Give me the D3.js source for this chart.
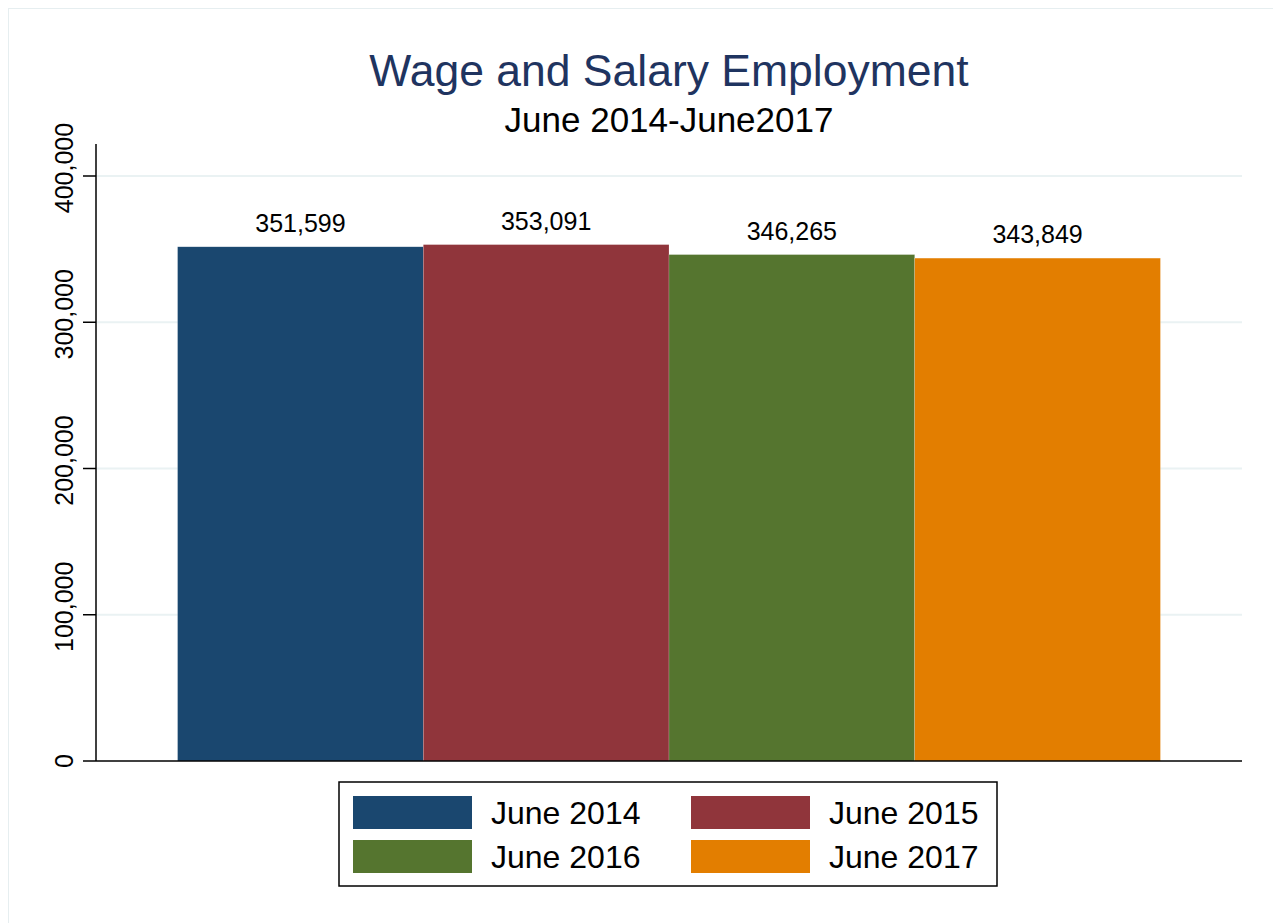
<html lang="en">
<head>
<title>Wage and Salary Employment</title>
<script src="https://d3js.org/d3.v7.min.js" charset="utf-8"></script>
<style>
body { margin: 0; background: #fff; font-family: "Liberation Sans", Arial, sans-serif; }
</style>
</head>
<body>
<script>
// data
var periods = ["June 2014", "June 2015", "June 2016", "June 2017"];
var employment = [351599, 353091, 346265, 343849];
var barColors = ["#1a476f", "#90353b", "#55752f", "#e37e00"];
var yTicks = [0, 100000, 200000, 300000, 400000];

var width = 1273, height = 923;
var plot = {left: 96, right: 1242, top: 144, bottom: 761};

var svg = d3.select("body").append("svg")
    .attr("width", width)
    .attr("height", height);

// outer frame
svg.append("rect")
    .attr("x", 8.5).attr("y", 8.5)
    .attr("width", width).attr("height", height)
    .attr("fill", "none")
    .attr("stroke", "#e6eef0");

var y = d3.scaleLinear()
    .domain([0, 400000])
    .range([plot.bottom, 176]);

var x = d3.scaleBand()
    .domain(periods)
    .range([plot.left, plot.right])
    .paddingInner(0)
    .paddingOuter(0.332);

// gridlines
svg.append("g")
  .selectAll("line")
  .data(yTicks.filter(function(d) { return d > 0; }))
  .enter().append("line")
    .attr("x1", plot.left).attr("x2", plot.right)
    .attr("y1", function(d) { return y(d); })
    .attr("y2", function(d) { return y(d); })
    .attr("stroke", "#eaf2f3")
    .attr("stroke-width", 2);

// bars
svg.append("g")
  .selectAll("rect")
  .data(periods)
  .enter().append("rect")
    .attr("x", function(d) { return x(d); })
    .attr("width", x.bandwidth())
    .attr("y", function(d, i) { return y(employment[i]); })
    .attr("height", function(d, i) { return y(0) - y(employment[i]); })
    .attr("fill", function(d, i) { return barColors[i]; })
    .attr("stroke", "rgba(255,255,255,0.35)")
    .attr("stroke-width", 0.5);

// value labels
svg.append("g")
  .selectAll("text")
  .data(periods)
  .enter().append("text")
    .attr("x", function(d) { return x(d) + x.bandwidth() / 2; })
    .attr("y", function(d, i) { return y(employment[i]) - 15; })
    .attr("text-anchor", "middle")
    .attr("font-size", "25px")
    .attr("fill", "#000")
    .text(function(d, i) { return d3.format(",")(employment[i]); });

// y axis ticks and rotated labels
var yAxis = svg.append("g").attr("class", "y-axis");
yAxis.selectAll("line")
  .data(yTicks)
  .enter().append("line")
    .attr("x1", plot.left - 13).attr("x2", plot.left)
    .attr("y1", function(d) { return y(d); })
    .attr("y2", function(d) { return y(d); })
    .attr("stroke", "#000").attr("stroke-width", 1.5);
yAxis.selectAll("text")
  .data(yTicks)
  .enter().append("text")
    .attr("transform", function(d) {
        return "translate(" + (plot.left - 32) + "," + (y(d) - (d > 0 ? 8 : 0)) + ") rotate(-90)";
    })
    .attr("text-anchor", "middle")
    .attr("dy", "0.35em")
    .attr("font-size", "25px")
    .attr("fill", "#000")
    .text(function(d) { return d3.format(",")(d); });

svg.append("line")
    .attr("x1", plot.left).attr("x2", plot.left)
    .attr("y1", plot.top).attr("y2", plot.bottom)
    .attr("stroke", "#000").attr("stroke-width", 1.5);

svg.append("line")
    .attr("x1", plot.left).attr("x2", plot.right)
    .attr("y1", plot.bottom).attr("y2", plot.bottom)
    .attr("stroke", "#000").attr("stroke-width", 1.5);

// titles
svg.append("text")
    .attr("x", (plot.left + plot.right) / 2)
    .attr("y", 86)
    .attr("text-anchor", "middle")
    .attr("font-size", "44.5px")
    .attr("fill", "#1f3460")
    .text("Wage and Salary Employment");

svg.append("text")
    .attr("x", (plot.left + plot.right) / 2)
    .attr("y", 132)
    .attr("text-anchor", "middle")
    .attr("font-size", "35px")
    .attr("fill", "#000")
    .text("June 2014-June2017");

// legend
var legend = svg.append("g").attr("transform", "translate(339,782)");
legend.append("rect")
    .attr("width", 658).attr("height", 104)
    .attr("fill", "#fff")
    .attr("stroke", "#000")
    .attr("stroke-width", 1.5);

var items = legend.selectAll("g.item")
  .data(periods)
  .enter().append("g")
    .attr("class", "item")
    .attr("transform", function(d, i) {
        return "translate(" + (14 + (i % 2) * 338) + "," + (14 + Math.floor(i / 2) * 44) + ")";
    });
items.append("rect")
    .attr("width", 119).attr("height", 33)
    .attr("fill", function(d, i) { return barColors[i]; });
items.append("text")
    .attr("x", 138).attr("y", 17)
    .attr("dy", "0.35em")
    .attr("font-size", "32px")
    .attr("fill", "#000")
    .text(function(d) { return d; });
</script>
</body>
</html>
